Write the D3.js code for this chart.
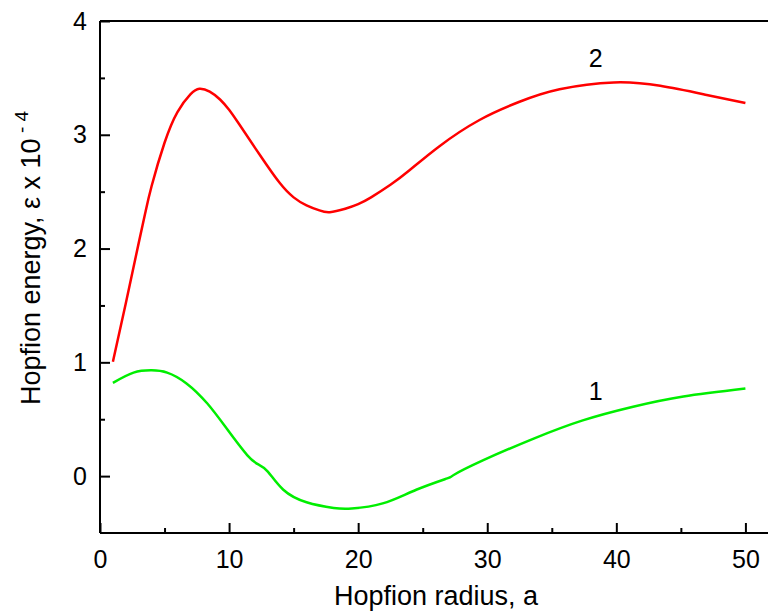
<!DOCTYPE html>
<html><head><meta charset="utf-8">
<script src="https://cdn.jsdelivr.net/npm/d3@7"></script>
<style>body{margin:0;background:#fff}svg{display:block}text{font-family:"Liberation Sans",Arial,sans-serif;fill:#000}</style>
</head><body><svg id="c" width="768" height="612"></svg>
<script>
// Curve 1 (green)
const x1 = [1, 2.6, 4.0, 5.2, 6.7, 8.3, 9.8, 11.4, 12.3, 13.0, 14.2, 16.0, 18.1, 19.5, 21.9, 24.5, 26.9, 27.4, 29.7, 33.6, 37.4, 41.3, 45.2, 50];
const y1 = [0.82, 0.91, 0.93, 0.91, 0.815, 0.64, 0.42, 0.185, 0.1, 0.04, -0.12, -0.23, -0.28, -0.285, -0.24, -0.12, -0.02, 0.01, 0.14, 0.33, 0.49, 0.61, 0.70, 0.77];
// Curve 2 (red)
const x2 = [1, 2, 3, 3.5, 4, 5, 6, 7, 7.7, 8.5, 9.3, 10.0, 10.8, 12.4, 13.9, 15, 16, 17, 17.8, 19, 20, 21, 22.5, 24, 26.3, 29.4, 32.5, 35.6, 39.8, 43.4, 47.0, 50];
const y2 = [1.005, 1.52, 2.05, 2.31, 2.55, 2.93, 3.2, 3.355, 3.405, 3.38, 3.31, 3.22, 3.09, 2.82, 2.58, 2.45, 2.38, 2.335, 2.32, 2.35, 2.39, 2.45, 2.56, 2.69, 2.90, 3.13, 3.29, 3.40, 3.46, 3.43, 3.35, 3.28];
const xTicks = [0, 10, 20, 30, 40, 50];
const yTicks = [0, 1, 2, 3, 4];
const xMinor = [5, 15, 25, 35, 45];
const yMinor = [0.5, 1.5, 2.5, 3.5];

const svg = d3.select("#c");
const L = 100, R = 768, T = 21, B = 533;
const x = d3.scaleLinear().domain([0, 51.75]).range([L, R]);
const y = d3.scaleLinear().domain([-0.5, 4]).range([B, T]);

svg.append("line").attr("x1", L).attr("x2", R).attr("y1", T).attr("y2", T).attr("stroke", "#000").attr("stroke-width", 2);

const xAxis = svg.append("g").attr("transform", `translate(0,${B})`)
  .call(d3.axisBottom(x).tickValues(xTicks).tickSizeInner(-10).tickSizeOuter(0).tickPadding(17).tickFormat(d3.format("d")));
svg.append("g").attr("transform", `translate(0,${B})`)
  .call(d3.axisBottom(x).tickValues(xMinor).tickSizeInner(-5).tickSizeOuter(0).tickFormat(""))
  .select(".domain").remove();
const yAxis = svg.append("g").attr("transform", `translate(${L},0)`)
  .call(d3.axisLeft(y).tickValues(yTicks).tickSizeInner(-10).tickSizeOuter(0).tickPadding(13).tickFormat(d3.format("d")));
svg.append("g").attr("transform", `translate(${L},0)`)
  .call(d3.axisLeft(y).tickValues(yMinor).tickSizeInner(-5).tickSizeOuter(0).tickFormat(""))
  .select(".domain").remove();
svg.selectAll(".domain").attr("stroke-width", 2).attr("stroke", "#000");
svg.selectAll(".tick line").attr("stroke-width", 2).attr("stroke", "#000");
xAxis.selectAll("text").attr("font-size", 25).attr("font-family", "Liberation Sans, Arial, sans-serif");
yAxis.selectAll("text").attr("font-size", 25).attr("font-family", "Liberation Sans, Arial, sans-serif");
xAxis.select(".domain").attr("d", `M${L},0H${R}`);
yAxis.select(".domain").attr("d", `M0,${T}V${B}`);

const line = d3.line().x(d => x(d[0])).y(d => y(d[1])).curve(d3.curveNatural);
svg.append("path").datum(x1.map((v, i) => [v, y1[i]])).attr("d", line)
  .attr("fill", "none").attr("stroke", "#00ee00").attr("stroke-width", 2.5);
svg.append("path").datum(x2.map((v, i) => [v, y2[i]])).attr("d", line)
  .attr("fill", "none").attr("stroke", "#ff0000").attr("stroke-width", 2.5);

svg.append("text").attr("x", x(38.4)).attr("y", 67).attr("text-anchor", "middle").attr("font-size", 25).text("2");
svg.append("text").attr("x", x(38.4)).attr("y", 400).attr("text-anchor", "middle").attr("font-size", 25).text("1");

svg.append("text").attr("x", 436).attr("y", 605).attr("text-anchor", "middle").attr("font-size", 27).text("Hopfion radius, a");
const yt = svg.append("text").attr("transform", "translate(40,258) rotate(-90)").attr("text-anchor", "middle").attr("font-size", 27);
yt.append("tspan").text("Hopfion energy, ε x 10");
yt.append("tspan").attr("dy", -12).attr("font-size", 19).text(" - 4");
</script></body></html>
